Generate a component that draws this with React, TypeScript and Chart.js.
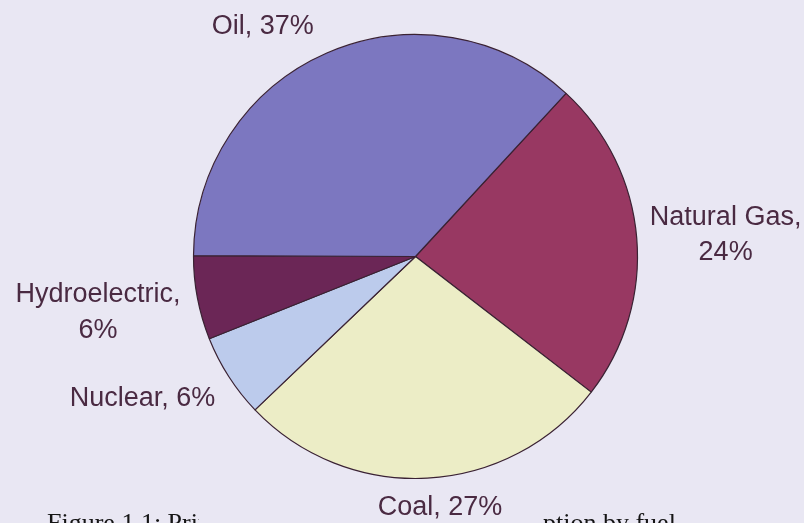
import React, { useEffect, useRef } from "react";
import { Chart, registerables } from "chart.js";

Chart.register(...registerables);

// ---- data ----
const categories = ["Natural Gas", "Coal", "Nuclear", "Hydroelectric", "Oil"];
const shares = [23.6, 27.4, 6.1, 6.1, 36.8];
const sliceColors = ["#983862", "#ecedc6", "#bccbec", "#6b2656", "#7c77c0"];
const wrapLabel = [true, false, false, true, false];
const captionLeft = "Figure 1.1: Primary energy";
const captionRight = "consumption by fuel";

// ---- label layout (angle tweak in degrees, distance beyond rim in px) ----
const labelAngleTweak = [0.5, -2.6, 5.5, 1.1, -9.8];
const labelRimGap = [89, 28, 85, 100, 56];

const BG = "#e9e7f3";
const TEXT = "#4a2a42";
const FONT = '27px "Liberation Sans", Arial, sans-serif';

const bgPlugin = {
  id: "bgFill",
  beforeDraw(chart: any) {
    const { ctx, width, height } = chart;
    ctx.save();
    ctx.fillStyle = BG;
    ctx.fillRect(0, 0, width, height);
    ctx.restore();
  },
};

const labelPlugin = {
  id: "outsideLabels",
  afterDraw(chart: any) {
    const { ctx, width, height } = chart;

    // caption of the source document: only its upper part shows, the middle is hidden behind the chart box
    ctx.save();
    ctx.font = '26px "Liberation Serif", "Times New Roman", serif';
    ctx.fillStyle = "#151515";
    ctx.textAlign = "left";
    ctx.textBaseline = "alphabetic";
    ctx.beginPath();
    ctx.rect(0, 0, 199, height);
    ctx.rect(541, 0, width - 541, height);
    ctx.clip();
    ctx.fillText(captionLeft, 47, 531);
    const pre = ctx.measureText("consum").width;
    ctx.fillText(captionRight, 543 - pre, 531);
    ctx.restore();

    const meta = chart.getDatasetMeta(0);
    const data = chart.data.datasets[0].data as number[];
    const total = data.reduce((a, b) => a + b, 0);
    ctx.save();
    ctx.font = FONT;
    ctx.fillStyle = TEXT;
    ctx.textAlign = "center";
    ctx.textBaseline = "alphabetic";
    const capH = 19;
    const lineGap = 35.5;
    meta.data.forEach((arc: any, i: number) => {
      const p = arc.getProps(["x", "y", "startAngle", "endAngle", "outerRadius"], true);
      const mid = (p.startAngle + p.endAngle) / 2 + (labelAngleTweak[i] * Math.PI) / 180;
      const dist = p.outerRadius + labelRimGap[i];
      const cx = p.x + Math.cos(mid) * dist;
      const cy = p.y + Math.sin(mid) * dist;
      const pct = Math.round((data[i] / total) * 100) + "%";
      const lines = wrapLabel[i]
        ? [categories[i] + ",", pct]
        : [categories[i] + ", " + pct];
      const blockH = capH + (lines.length - 1) * lineGap;
      const firstBase = cy - blockH / 2 + capH;
      lines.forEach((ln, k) => {
        ctx.fillText(ln, cx, firstBase + k * lineGap);
      });
    });
    ctx.restore();
  },
};

export default function App() {
  const ref = useRef<HTMLCanvasElement | null>(null);
  useEffect(() => {
    if (!ref.current) return;
    const chart = new Chart(ref.current, {
      type: "pie",
      data: {
        labels: categories,
        datasets: [
          {
            data: shares,
            backgroundColor: sliceColors,
            borderColor: "#3a2233",
            borderWidth: 1.2,
          },
        ],
      },
      options: {
        responsive: false,
        animation: false,
        rotation: 42.7,
        radius: 222,
        layout: { padding: { left: 40, right: 13, top: 10, bottom: 20 } },
        plugins: {
          legend: { display: false },
          tooltip: { enabled: false },
          title: { display: false },
        },
      },
      plugins: [bgPlugin, labelPlugin],
    });
    return () => chart.destroy();
  }, []);
  return (
    <div style={{ position: "fixed", left: 0, top: 0, width: 804, height: 523, background: BG, overflow: "hidden" }}>
      <canvas ref={ref} width={804} height={523} style={{ display: "block", width: 804, height: 523 }} />
    </div>
  );
}
